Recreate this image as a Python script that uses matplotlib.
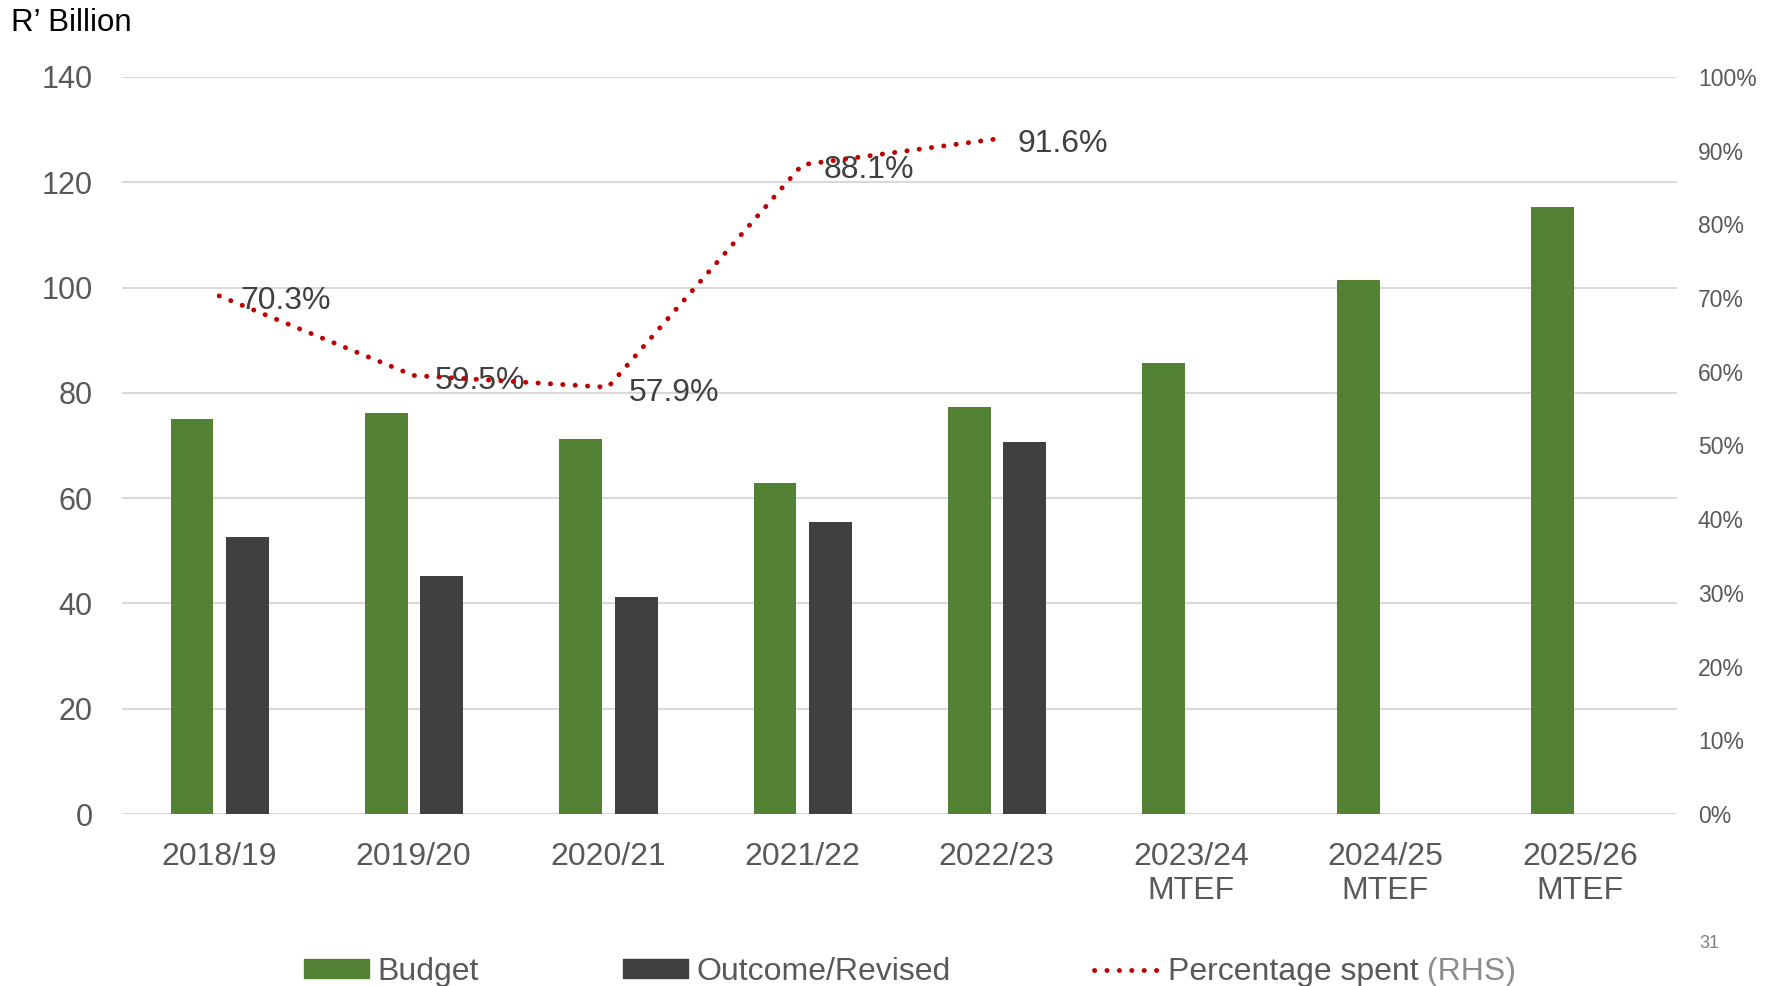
import matplotlib
matplotlib.use('Agg')
import matplotlib.pyplot as plt
import numpy as np
from matplotlib.patches import Patch
from matplotlib.lines import Line2D

plt.rcParams['font.family'] = ['Liberation Sans', 'DejaVu Sans']

categories = ['2018/19', '2019/20', '2020/21', '2021/22', '2022/23',
              '2023/24\nMTEF', '2024/25\nMTEF', '2025/26\nMTEF']
budget = [75.0, 76.1, 71.3, 62.9, 77.3, 85.7, 101.4, 115.4]
outcome = [52.6, 45.2, 41.2, 55.4, 70.7]
pct_spent = [70.3, 59.5, 57.9, 88.1, 91.6]
pct_labels = ['70.3%', '59.5%', '57.9%', '88.1%', '91.6%']

green = '#548235'
dark = '#404040'
red = '#C00000'
grey = '#595959'

fig = plt.figure(figsize=(17.77, 9.86), dpi=100)
ax = fig.add_axes([122/1777, 1-814/986, (1677-122)/1777, (814-77)/986])
ax2 = ax.twinx()

x = np.arange(len(categories))
w = 0.22
ax.bar(x - 0.14, budget, w, color=green, zorder=3)
ax.bar(x[:len(outcome)] + 0.145, outcome, w, color=dark, zorder=3)

ax.set_ylim(0, 140)
ax.set_yticks(np.arange(0, 141, 20))
ax.set_xlim(-0.5, len(categories) - 0.5)
ax.set_xticks(x)
ax.set_xticklabels(categories, linespacing=1.2)
ax.grid(axis='y', color='#D9D9D9', linewidth=1.5, zorder=0)
ax.set_axisbelow(True)
ax.tick_params(axis='y', length=0, pad=21, labelsize=22, labelcolor=grey)
ax.tick_params(axis='x', length=0, pad=20, labelsize=23, labelcolor=grey)
for s in ax.spines.values():
    s.set_visible(False)

# dotted % spent line on the right axis
ls = (0, (0.05, 2.5))
ax2.plot(x[:len(pct_spent)], pct_spent, color=red, linewidth=3.5,
         linestyle=ls, dash_capstyle='round', zorder=4)
for xi, yi, lab in zip(x, pct_spent, pct_labels):
    ax2.annotate(lab, (xi, yi), xytext=(15, -4), textcoords='offset points',
                 va='center', ha='left', fontsize=23, color='#404040')
ax2.set_ylim(0, 100)
ax2.set_yticks(np.arange(0, 101, 10))
ax2.set_yticklabels([f'{v}%' for v in range(0, 101, 10)])
ax2.tick_params(axis='y', length=0, pad=15, labelsize=16.5, labelcolor=grey)
for s in ax2.spines.values():
    s.set_visible(False)

fig.text(11/1777, 1-23/986, 'R\u2019 Billion', fontsize=22.5, color='black',
         va='center', ha='left')
fig.text(1709/1777, 1-944/986, '31', fontsize=13, color='#7F7F7F',
         va='center', ha='center')

handles = [Patch(color=green), Patch(color=dark),
           Line2D([0], [0], color=red, linewidth=3.5, linestyle=ls,
                  dash_capstyle='round')]
leg = fig.legend(handles, ['Budget', 'Outcome/Revised', 'Percentage spent'],
                 loc='center left', bbox_to_anchor=(304/1777, 1-972/986),
                 ncol=3, frameon=False, fontsize=23, handlelength=2.05,
                 handleheight=0.55, handletextpad=0.25, columnspacing=4.5,
                 borderpad=0, borderaxespad=0)
for t in leg.get_texts():
    t.set_color(grey)
fig.canvas.draw()
ax.annotate(' (RHS)', xy=(1, 0.5), xycoords=leg.get_texts()[2],
            va='center', ha='left', fontsize=23, color='#8C8C8C',
            annotation_clip=False)

fig.savefig('out.png', dpi=100)
